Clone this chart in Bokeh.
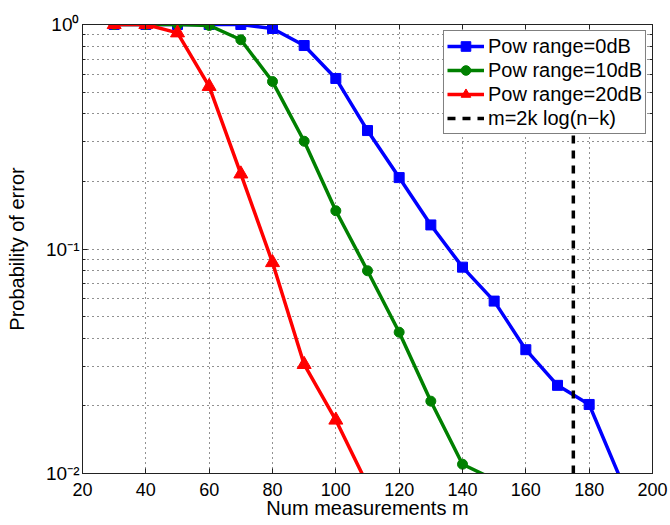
from bokeh.plotting import figure
from bokeh.models import (FixedTicker, CustomJSTickFormatter, LinearAxis, LogAxis,
                          Legend, LegendItem, Range1d)
from bokeh.embed import file_html
from bokeh.resources import INLINE

# ---- data ----
m_0db = [30, 40, 50, 60, 70, 80, 90, 100, 110, 120, 130, 140, 150, 160, 170, 180, 190]
p_0db = [1.0, 1.0, 1.0, 1.0, 1.0, 0.96, 0.806, 0.575, 0.337, 0.208, 0.128, 0.083,
         0.0586, 0.0356, 0.0247, 0.0203, 0.0094]
m_10db = [30, 40, 50, 60, 70, 80, 90, 100, 110, 120, 130, 140, 150]
p_10db = [1.0, 1.0, 1.0, 0.99, 0.855, 0.557, 0.302, 0.148, 0.080, 0.0426, 0.021, 0.011, 0.0094]
m_20db = [30, 40, 50, 60, 70, 80, 90, 100, 110]
p_20db = [1.0, 1.0, 0.918, 0.53, 0.216, 0.087, 0.0306, 0.0173, 0.0089]
threshold_m = 175

x_ticks = [20, 40, 60, 80, 100, 120, 140, 160, 180, 200]
y_major = [0.01, 0.1, 1.0]
y_minor = [0.02, 0.03, 0.04, 0.05, 0.06, 0.07, 0.08, 0.09,
           0.2, 0.3, 0.4, 0.5, 0.6, 0.7, 0.8, 0.9]
x_lim = (20, 200)
y_lim = (0.01, 1.0)

FONT = "Liberation Sans"

p = figure(width=670, height=525, output_backend="svg", toolbar_location=None,
           y_axis_type="log", x_range=Range1d(*x_lim), y_range=Range1d(*y_lim),
           min_border_left=82, min_border_right=18, min_border_top=24, min_border_bottom=52)
p.outline_line_color = "#222222"
p.outline_line_width = 1

xt = FixedTicker(ticks=x_ticks)
yt = FixedTicker(ticks=y_major, minor_ticks=y_minor)
sup_js = """
const e = Math.round(Math.log10(tick));
const sup = {'0':'\u2070','1':'\u00b9','2':'\u00b2','3':'\u00b3','-':'\u207b'};
return '10' + String(e).split('').map(c => sup[c]).join('');
"""
blank_js = "return '';"

def style_axis(ax):
    ax.major_tick_in = 5
    ax.major_tick_out = 0
    ax.minor_tick_in = 3
    ax.minor_tick_out = 0
    ax.axis_line_color = "#222222"
    ax.major_tick_line_color = "#222222"
    ax.minor_tick_line_color = "#222222"
    ax.major_label_text_font = FONT
    ax.major_label_text_font_size = "18px"
    ax.major_label_text_color = "black"
    ax.axis_label_text_font = FONT
    ax.axis_label_text_font_size = "20px"
    ax.axis_label_text_font_style = "normal"
    ax.axis_label_text_color = "black"

def style_blank(ax):
    style_axis(ax)
    ax.major_label_text_font_size = "0px"
    ax.major_label_standoff = 0
    ax.axis_label_standoff = 0

# bottom / left
xa = p.xaxis[0]
xa.ticker = xt
style_axis(xa)
xa.minor_tick_line_color = None
xa.axis_label = "Num measurements m"
xa.major_label_standoff = 9
xa.axis_label_standoff = -2

ya = p.yaxis[0]
ya.ticker = yt
ya.formatter = CustomJSTickFormatter(code=sup_js)
style_axis(ya)
ya.major_label_text_font_size = "19px"
ya.axis_label = "Probability of error"
ya.major_label_standoff = 3
ya.axis_label_standoff = 15

# top / right (ticks only)
top = LinearAxis(ticker=FixedTicker(ticks=x_ticks), formatter=CustomJSTickFormatter(code=blank_js))
style_blank(top)
top.minor_tick_line_color = None
p.add_layout(top, "above")

right = LogAxis(ticker=FixedTicker(ticks=y_major, minor_ticks=y_minor),
                formatter=CustomJSTickFormatter(code=blank_js))
style_blank(right)
p.add_layout(right, "right")

# grid
p.xgrid.ticker = xt
p.ygrid.ticker = yt
for g in (p.xgrid[0], p.ygrid[0]):
    g.grid_line_color = "#222222"
    g.grid_line_dash = "1 4"
    g.grid_line_width = 1
p.ygrid[0].minor_grid_line_color = "#222222"
p.ygrid[0].minor_grid_line_dash = "1 4"
p.ygrid[0].minor_grid_line_width = 1

# series
LW = 3.5
l0 = p.line(m_0db, p_0db, line_color="#0000FF", line_width=LW)
s0 = p.scatter(m_0db, p_0db, marker="square", size=10, fill_color="#0000FF", line_color="#0000FF")
l1 = p.line(m_10db, p_10db, line_color="#008000", line_width=LW)
s1 = p.scatter(m_10db, p_10db, marker="circle", size=10, fill_color="#008000", line_color="#008000")
l2 = p.line(m_20db, p_20db, line_color="#FF0000", line_width=LW)
s2 = p.scatter(m_20db, p_20db, marker="triangle", size=14, fill_color="#FF0000", line_color="#FF0000")
ld = p.line([threshold_m, threshold_m], [y_lim[0], y_lim[1]], line_color="black",
            line_width=LW, line_dash="8 7")

legend = Legend(items=[
    LegendItem(label="Pow range=0dB", renderers=[l0, s0]),
    LegendItem(label="Pow range=10dB", renderers=[l1, s1]),
    LegendItem(label="Pow range=20dB", renderers=[l2, s2]),
    LegendItem(label="m=2k log(n\u2212k)", renderers=[ld]),
], location="top_right")
legend.label_text_font = FONT
legend.label_text_font_size = "20px"
legend.label_text_color = "black"
legend.border_line_color = "black"
legend.border_line_width = 1
legend.background_fill_alpha = 1.0
legend.margin = 6
legend.padding = 3
legend.spacing = 0
legend.label_height = 24
legend.glyph_height = 24
legend.glyph_width = 37
legend.label_standoff = 4
p.add_layout(legend)

open("out.html", "w").write(file_html(p, INLINE))
